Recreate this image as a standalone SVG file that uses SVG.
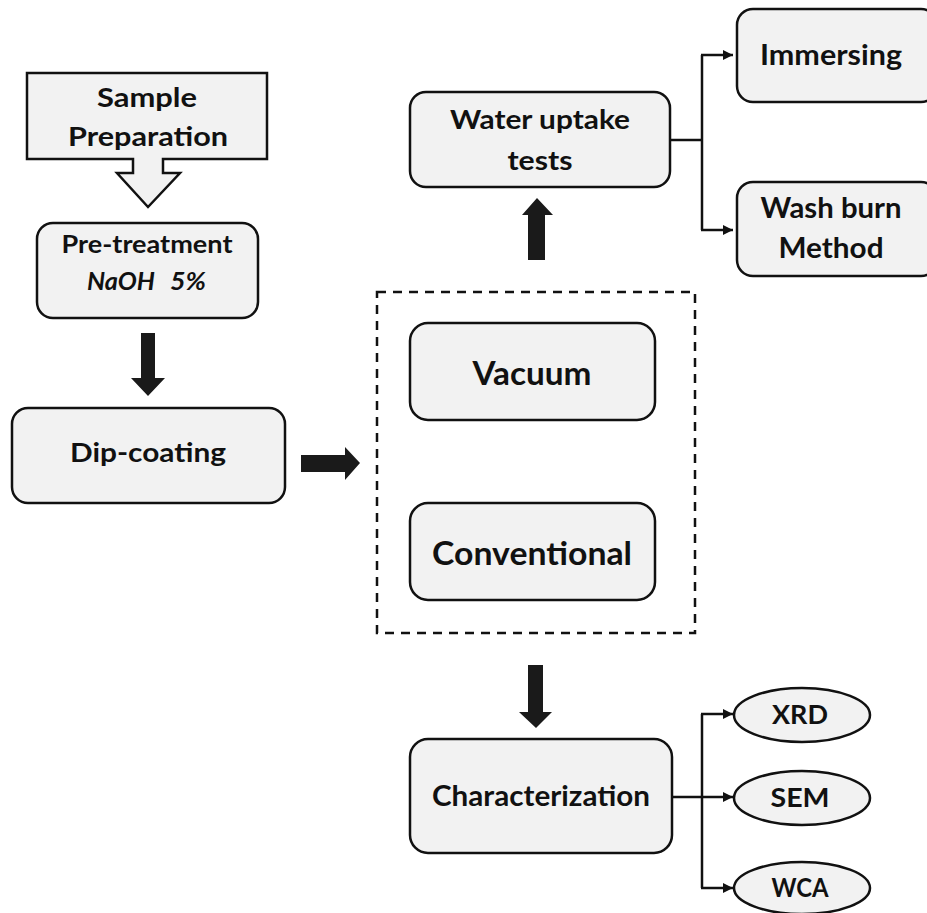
<svg xmlns="http://www.w3.org/2000/svg" width="927" height="913" viewBox="0 0 927 913">
<style>
.box{fill:#f2f2f2;stroke:#111;stroke-width:2.5}
.t{font-family:Lato,"Open Sans",sans-serif;font-weight:bold;fill:#111;text-anchor:middle}
.c{fill:none;stroke:#111;stroke-width:2.5}
.blk{fill:#1a1a1a}
</style>
<defs>
<marker id="ah" viewBox="0 0 10 10" refX="10" refY="5" markerWidth="10" markerHeight="10" markerUnits="userSpaceOnUse" orient="auto">
<path d="M0,0 L10,5 L0,10 Z" fill="#111"/>
</marker>
</defs>
<rect width="927" height="913" fill="#fff"/>

<g id="sample">
<path class="box" d="M27,73 H267 V159 H163 V173 H180 L148,207 L117,173 H133 V159 H27 Z"/>
<text class="t" x="147" y="107" font-size="27" textLength="100" lengthAdjust="spacingAndGlyphs">Sample</text>
<text class="t" x="148" y="146" font-size="27" textLength="160" lengthAdjust="spacingAndGlyphs">Preparation</text>
</g>

<g id="pretreatment">
<rect class="box" x="37" y="223" width="221" height="95" rx="16"/>
<text class="t" x="147" y="253" font-size="24" textLength="171" lengthAdjust="spacingAndGlyphs">Pre-treatment</text>
<text class="t" x="121" y="290" font-size="24" font-style="italic" textLength="68" lengthAdjust="spacingAndGlyphs">NaOH</text>
<text class="t" x="188" y="290" font-size="24" font-style="italic" textLength="36" lengthAdjust="spacingAndGlyphs">5%</text>
</g>

<g id="dipcoating">
<rect class="box" x="12" y="408" width="273" height="95" rx="16"/>
<text class="t" x="148" y="462" font-size="27" textLength="156" lengthAdjust="spacingAndGlyphs">Dip-coating</text>
</g>

<g id="group-box">
<rect x="377" y="292" width="318" height="341" fill="none" stroke="#111" stroke-width="2.5" stroke-dasharray="9,7"/>
</g>

<g id="vacuum">
<rect class="box" x="410" y="323" width="245" height="97" rx="18"/>
<text class="t" x="532" y="385" font-size="33" textLength="119" lengthAdjust="spacingAndGlyphs">Vacuum</text>
</g>

<g id="conventional">
<rect class="box" x="410" y="503" width="245" height="97" rx="18"/>
<text class="t" x="532" y="565" font-size="33" textLength="200" lengthAdjust="spacingAndGlyphs">Conventional</text>
</g>

<g id="water">
<rect class="box" x="410" y="92" width="260" height="95" rx="16"/>
<text class="t" x="540" y="129" font-size="27" textLength="180" lengthAdjust="spacingAndGlyphs">Water uptake</text>
<text class="t" x="540" y="170" font-size="27" textLength="65" lengthAdjust="spacingAndGlyphs">tests</text>
</g>

<g id="immersing">
<rect class="box" x="737" y="9" width="200" height="93" rx="16"/>
<text class="t" x="831" y="65" font-size="28" textLength="142" lengthAdjust="spacingAndGlyphs">Immersing</text>
</g>

<g id="washburn">
<rect class="box" x="737" y="182" width="200" height="94" rx="16"/>
<text class="t" x="831" y="218" font-size="28" textLength="141" lengthAdjust="spacingAndGlyphs">Wash burn</text>
<text class="t" x="831" y="258" font-size="28" textLength="105" lengthAdjust="spacingAndGlyphs">Method</text>
</g>

<g id="characterization">
<rect class="box" x="410" y="739" width="262" height="114" rx="18"/>
<text class="t" x="541" y="806" font-size="28" textLength="218" lengthAdjust="spacingAndGlyphs">Characterization</text>
</g>

<g id="xrd">
<ellipse class="box" cx="802" cy="715" rx="68" ry="27"/>
<text class="t" x="800" y="724" font-size="26" textLength="56" lengthAdjust="spacingAndGlyphs">XRD</text>
</g>
<g id="sem">
<ellipse class="box" cx="802" cy="798" rx="68" ry="27"/>
<text class="t" x="800" y="807" font-size="26" textLength="59" lengthAdjust="spacingAndGlyphs">SEM</text>
</g>
<g id="wca">
<ellipse class="box" cx="802" cy="888" rx="68" ry="26"/>
<text class="t" x="800" y="897" font-size="26" textLength="57" lengthAdjust="spacingAndGlyphs">WCA</text>
</g>

<g id="connectors">
<path class="blk" d="M141,333 H155 V378 H165 L148,396 L131,378 H141 Z"/>
<path class="blk" d="M301,455 H345 V447 L360,463 L345,480 V472 H301 Z"/>
<path class="blk" d="M528,260 H545 V215 H553 L537,198 L522,215 H528 Z"/>
<path class="blk" d="M528,665 H543 V712 H552 L536,728 L519,712 H528 Z"/>
<path class="c" d="M670,140 H702"/>
<path class="c" d="M702,55 V230"/>
<path class="c" d="M701,55 H733" marker-end="url(#ah)"/>
<path class="c" d="M701,230 H733" marker-end="url(#ah)"/>
<path class="c" d="M672,797 H733" marker-end="url(#ah)"/>
<path class="c" d="M702,714 V888"/>
<path class="c" d="M701,714 H733" marker-end="url(#ah)"/>
<path class="c" d="M701,888 H733" marker-end="url(#ah)"/>
</g>
</svg>
